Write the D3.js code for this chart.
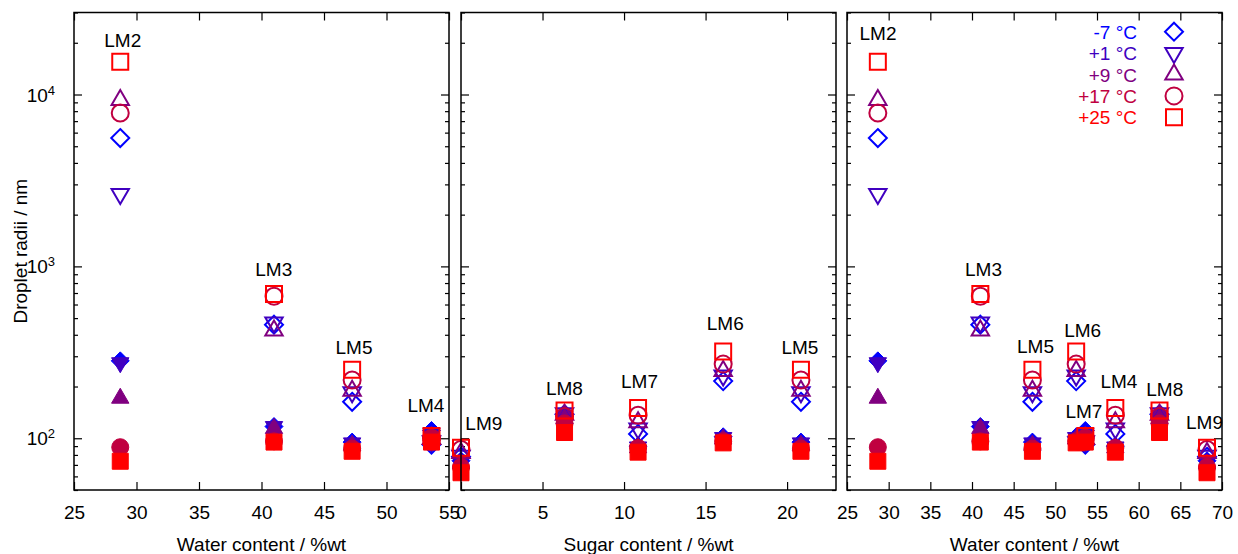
<!DOCTYPE html>
<html>
<head>
<meta charset="utf-8">
<script src="https://cdn.jsdelivr.net/npm/d3@7"></script>
<style>
  body { margin: 0; background: #fff; }
  svg text { font-family: "Liberation Sans", Arial, Helvetica, sans-serif; fill: #000; }
</style>
</head>
<body>
<svg id="chart" width="1238" height="554"></svg>
<script>
// ---- data ---------------------------------------------------------------
const samples   = ["LM2", "LM3", "LM5", "LM4", "LM6", "LM7", "LM8", "LM9"];
const waterWt   = [28.7, 41.0, 47.25, 53.6, 52.5, 57.2, 62.5, 68.2];
const sugarWt   = [null, null, 20.85, null, 16.08, 10.86, 6.35, 0];

const temperatures = ["-7 °C", "+1 °C", "+9 °C", "+17 °C", "+25 °C"];

// droplet radii (nm), larger population (open symbols)
const openMinus7  = [5580,  458, 163,  92, 215, 106, 138, 78];
const openPlus1   = [2640,  472, 185,  96, 232, 114, 140, 79];
const openPlus9   = [9300,  423, 189,  99, 246, 124, 137, 82];
const openPlus17  = [7800,  670, 218, 100, 270, 136, 134, 86];
const openPlus25  = [15500, 691, 250, 103, 320, 150, 145, 88];

// droplet radii (nm), smaller population (filled symbols)
const filledMinus7 = [282, 117, 95, 111, 102, 90, 138, 74];
const filledPlus1  = [275, 117, 94, 107, 101, 89, 135, 73];
const filledPlus9  = [171, 114, 91, 103,  99, 88, 130, 71];
const filledPlus17 = [88.7, 96, 87,  99,  96, 88, 122, 68];
const filledPlus25 = [73.5, 95, 84,  95,  94, 83, 108, 63];

const openSeries   = [openMinus7, openPlus1, openPlus9, openPlus17, openPlus25];
const filledSeries = [filledMinus7, filledPlus1, filledPlus9, filledPlus17, filledPlus25];

// which samples each panel shows
const leftSamples   = ["LM2", "LM3", "LM5", "LM4"];
const middleSamples = ["LM9", "LM8", "LM7", "LM6", "LM5"];
const rightSamples  = ["LM2", "LM3", "LM5", "LM4", "LM6", "LM7", "LM8", "LM9"];

// tick values
const leftTicks   = [25, 30, 35, 40, 45, 50, 55];
const middleTicks = [0, 5, 10, 15, 20];
const rightTicks  = [25, 30, 35, 40, 45, 50, 55, 60, 65, 70];
const yMajorTicks = [100, 1000, 10000];

// sample name annotations (data coordinates of the text baseline centre)
const leftNames = [
  { text: "LM2", x: 28.9,  y: 19000 },
  { text: "LM3", x: 40.98, y: 883 },
  { text: "LM5", x: 47.4,  y: 310 },
  { text: "LM4", x: 53.15, y: 143 }
];
const middleNames = [
  { text: "LM9", x: 1.40,  y: 111 },
  { text: "LM8", x: 6.34,  y: 179 },
  { text: "LM7", x: 10.95, y: 196 },
  { text: "LM6", x: 16.21, y: 427 },
  { text: "LM5", x: 20.79, y: 310 }
];
const rightNames = [
  { text: "LM2", x: 28.72, y: 20800 },
  { text: "LM3", x: 41.38, y: 883 },
  { text: "LM5", x: 47.62, y: 312 },
  { text: "LM6", x: 53.28, y: 386 },
  { text: "LM4", x: 57.63, y: 196 },
  { text: "LM7", x: 53.43, y: 132 },
  { text: "LM8", x: 63.13, y: 177 },
  { text: "LM9", x: 67.9,  y: 113 }
];

// ---- styling ------------------------------------------------------------
const colors = ["#0000ff", "#4000c0", "#800080", "#c00040", "#ff0000"];
const shapes = ["diamond", "down", "up", "circle", "square"];
const fontSize = 19;

function shapePath(kind) {
  switch (kind) {
    case "square":  return "M-8,-8H8V8H-8Z";
    case "circle":  return "M8.5,0A8.5,8.5 0 1 1 -8.5,0A8.5,8.5 0 1 1 8.5,0Z";
    case "up":      return "M0,-10L8.7,5L-8.7,5Z";
    case "down":    return "M0,10L8.7,-5L-8.7,-5Z";
    case "diamond": return "M0,-9L9,0L0,9L-9,0Z";
  }
}

// ---- layout -------------------------------------------------------------
const svg = d3.select("#chart");
const plotTop = 12.5, plotBottom = 490;

const y = d3.scaleLog().domain([50, 30000]).range([plotBottom, plotTop]);
const yMinorTicks = [];
[10, 100, 1000, 10000].forEach(d => {
  for (let k = 2; k <= 9; k++) {
    const v = d * k;
    if (v >= 50 && v <= 30000 && !yMajorTicks.includes(v)) yMinorTicks.push(v);
  }
});

const panels = [
  { field: waterWt, domain: [25, 55], left: 74,  right: 449,  ticks: leftTicks,   names: leftNames,   members: leftSamples,   title: "Water content / %wt", yLabels: true },
  { field: sugarWt, domain: [0, 23],  left: 461, right: 836,  ticks: middleTicks, names: middleNames, members: middleSamples, title: "Sugar content / %wt", yLabels: false },
  { field: waterWt, domain: [25, 70], left: 847, right: 1222, ticks: rightTicks,  names: rightNames,  members: rightSamples,  title: "Water content / %wt", yLabels: false }
];

panels.forEach(p => {
  const x = d3.scaleLinear().domain(p.domain).range([p.left, p.right]);
  const g = svg.append("g");

  // axes: inward ticks on all four sides
  const bottomAxis = g.append("g").attr("transform", `translate(0,${plotBottom})`)
    .call(d3.axisBottom(x).tickValues(p.ticks).tickSizeInner(-8).tickSizeOuter(0).tickPadding(16));
  bottomAxis.selectAll("text").attr("font-size", fontSize).attr("fill", "#000")
    .style("font-family", '"Liberation Sans", Arial, sans-serif');

  g.append("g").attr("transform", `translate(0,${plotTop})`)
    .call(d3.axisTop(x).tickValues(p.ticks).tickSizeInner(-8).tickSizeOuter(0).tickFormat(""));

  [[p.left, d3.axisLeft], [p.right, d3.axisRight]].forEach(([xPos, axisFn]) => {
    g.append("g").attr("transform", `translate(${xPos},0)`)
      .call(axisFn(y).tickValues(yMajorTicks).tickSizeInner(-8).tickSizeOuter(0).tickFormat(""));
    g.append("g").attr("transform", `translate(${xPos},0)`)
      .call(axisFn(y).tickValues(yMinorTicks).tickSizeInner(-4).tickSizeOuter(0).tickFormat(""));
  });

  g.selectAll(".domain").remove();
  g.selectAll(".tick line").attr("stroke", "#000").attr("stroke-width", 1.2);

  // y tick labels as powers of ten
  if (p.yLabels) {
    yMajorTicks.forEach(v => {
      const t = g.append("text")
        .attr("x", 55).attr("y", y(v) + 7)
        .attr("text-anchor", "end").attr("font-size", fontSize);
      t.append("tspan").text("10");
      t.append("tspan").attr("dy", -7).attr("font-size", 13).text(String(Math.round(Math.log10(v))));
    });
  }

  // data markers: each temperature draws its open then its filled population
  const idx = p.members.map(name => samples.indexOf(name));
  temperatures.forEach((temp, ti) => {
    [[openSeries[ti], false], [filledSeries[ti], true]].forEach(([series, filled]) => {
      g.append("g").selectAll("path")
        .data(idx)
        .join("path")
        .attr("d", shapePath(shapes[ti]))
        .attr("transform", i => `translate(${x(p.field[i])},${y(series[i])})`)
        .attr("fill", filled ? colors[ti] : "none")
        .attr("stroke", colors[ti])
        .attr("stroke-width", filled ? 1 : 2)
        .attr("stroke-linejoin", "miter");
    });
  });

  // sample names
  g.append("g").selectAll("text")
    .data(p.names)
    .join("text")
    .attr("x", d => x(d.x))
    .attr("y", d => y(d.y))
    .attr("text-anchor", "middle")
    .attr("font-size", fontSize)
    .text(d => d.text);

  // frame
  g.append("rect")
    .attr("x", p.left).attr("y", plotTop)
    .attr("width", p.right - p.left).attr("height", plotBottom - plotTop)
    .attr("fill", "none").attr("stroke", "#000").attr("stroke-width", 1.5);

  // x title
  g.append("text")
    .attr("x", (p.left + p.right) / 2).attr("y", 550.5)
    .attr("text-anchor", "middle").attr("font-size", fontSize)
    .text(p.title);
});

// y title
svg.append("text")
  .attr("transform", `translate(27,${(plotTop + plotBottom) / 2}) rotate(-90)`)
  .attr("text-anchor", "middle").attr("font-size", fontSize)
  .text("Droplet radii / nm");

// legend (top right of the last panel)
const legend = svg.append("g");
const legendRowY = d3.scaleLinear().domain([0, 4]).range([31.7, 117.3]);
temperatures.forEach((temp, i) => {
  legend.append("text")
    .attr("x", 1137).attr("y", legendRowY(i) + 7)
    .attr("text-anchor", "end").attr("font-size", fontSize)
    .style("fill", colors[i])
    .text(temp);
  legend.append("path")
    .attr("d", shapePath(shapes[i]))
    .attr("transform", `translate(1174,${legendRowY(i)})`)
    .attr("fill", "none").attr("stroke", colors[i]).attr("stroke-width", 2);
});
</script>
</body>
</html>
